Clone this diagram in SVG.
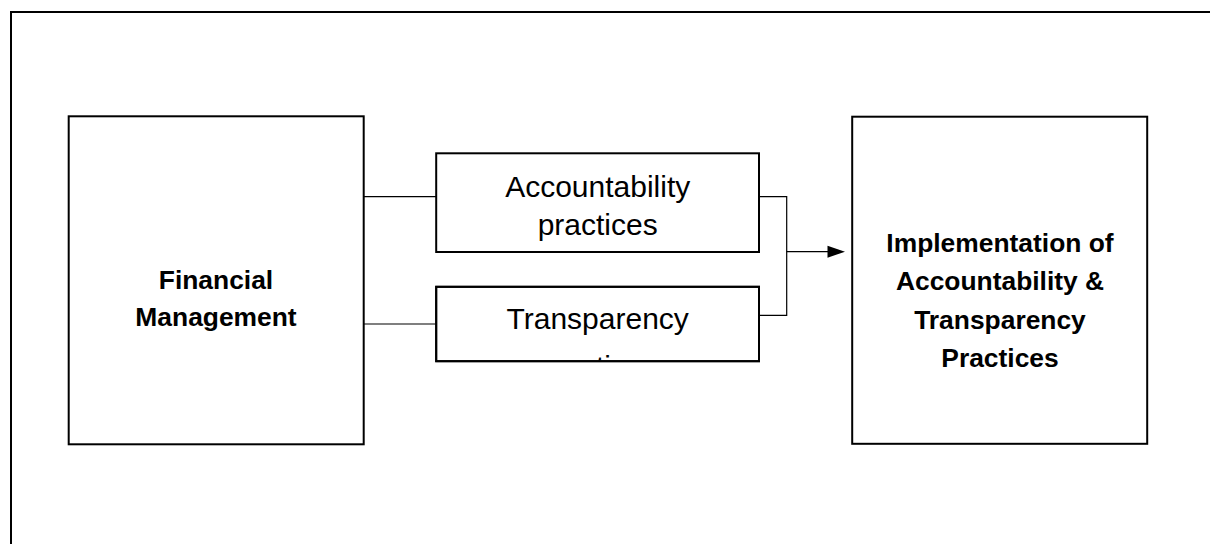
<svg xmlns="http://www.w3.org/2000/svg" width="1210" height="544" viewBox="0 0 1210 544">
  <style>
    .box { fill: #ffffff; stroke: #000000; stroke-width: 2; }
    .conn { fill: none; stroke: #000000; stroke-width: 1.2; }
    .bold { font-family: "Liberation Sans", Arial, sans-serif; font-weight: bold; font-size: 26.4px; fill: #000000; text-anchor: middle; }
    .reg { font-family: "Liberation Sans", Arial, sans-serif; font-size: 30px; fill: #000000; text-anchor: middle; }
  </style>
  <defs>
    <clipPath id="clipTransp">
      <rect x="437" y="288" width="321" height="72.5"/>
    </clipPath>
  </defs>
  <rect x="0" y="0" width="1210" height="544" fill="#ffffff"/>
  <g id="frame">
    <polyline points="11,544 11,12 1210,12" fill="none" stroke="#000000" stroke-width="2"/>
  </g>
  <g id="connectors">
    <line class="conn" x1="364" y1="196.7" x2="436" y2="196.7"/>
    <line class="conn" x1="364" y1="324" x2="436" y2="324"/>
    <polyline class="conn" points="759,196.7 786.7,196.7 786.7,315.3 759,315.3"/>
    <line class="conn" x1="786.7" y1="251.7" x2="830" y2="251.7"/>
    <polygon points="827.5,245.7 845,251.7 827.5,257.7" fill="#000000"/>
  </g>
  <g id="node-financial">
    <rect class="box" x="68.7" y="116.3" width="295" height="328"/>
    <text class="bold" x="216" y="288.5">Financial</text>
    <text class="bold" x="216" y="326">Management</text>
  </g>
  <g id="node-accountability">
    <rect class="box" x="436.2" y="153.3" width="322.8" height="98.7"/>
    <text class="reg" x="597.7" y="196.7">Accountability</text>
    <text class="reg" x="597.7" y="235">practices</text>
  </g>
  <g id="node-transparency">
    <rect class="box" x="436.2" y="286.8" width="322.8" height="74.4"/>
    <g clip-path="url(#clipTransp)">
      <text class="reg" x="597.7" y="329">Transparency</text>
      <text class="reg" x="597.7" y="376.5">practices</text>
    </g>
    <rect x="436.2" y="286.8" width="322.8" height="74.4" fill="none" stroke="#000000" stroke-width="2"/>
  </g>
  <g id="node-implementation">
    <rect class="box" x="852.2" y="116.7" width="295" height="327.1"/>
    <text class="bold" x="1000" y="251.5">Implementation of</text>
    <text class="bold" x="1000" y="290">Accountability &amp;</text>
    <text class="bold" x="1000" y="328.5">Transparency</text>
    <text class="bold" x="1000" y="367">Practices</text>
  </g>
</svg>
